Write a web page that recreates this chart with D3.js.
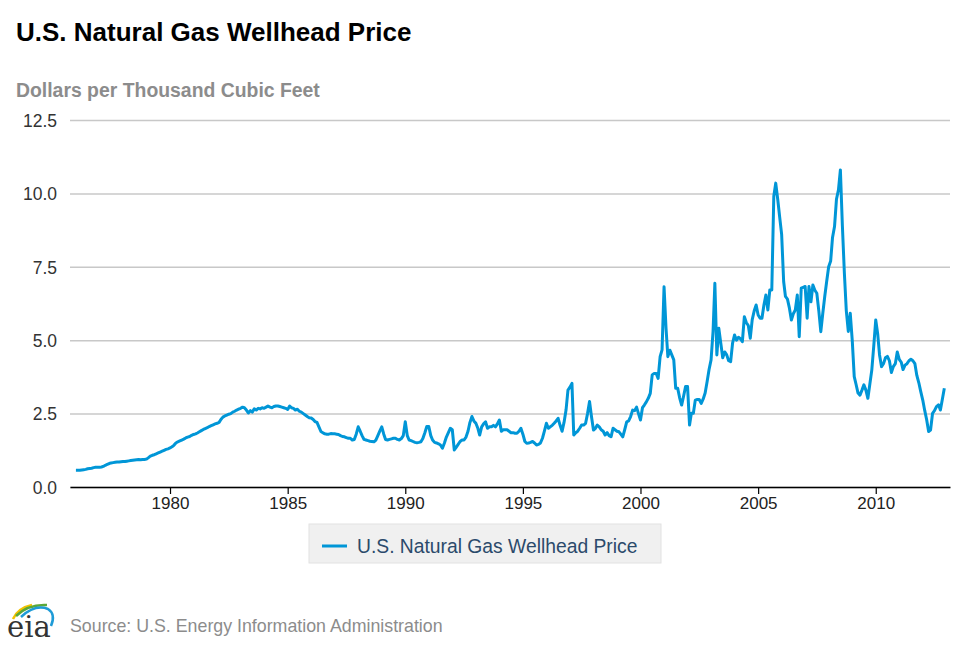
<!DOCTYPE html>
<html>
<head>
<meta charset="utf-8">
<script src="https://cdn.jsdelivr.net/npm/d3@7/dist/d3.min.js"></script>
<style>
body { margin: 0; background: #fff; }
svg text { font-family: "Liberation Sans", Arial, Helvetica, sans-serif; }
</style>
</head>
<body>
<div id="chart"></div>
<script>
// Monthly series, Jan 1976 .. Dec 2012 (one row per year)
var firstYear = 1976;
var wellheadPrice = [
  0.57,0.57,0.57,0.58,0.59,0.60,0.62,0.63,0.64,0.66,0.67,0.67, // 1976
  0.67,0.68,0.70,0.74,0.77,0.80,0.82,0.83,0.84,0.85,0.85,0.86, // 1977
  0.87,0.87,0.88,0.89,0.90,0.91,0.92,0.93,0.94,0.93,0.94,0.94, // 1978
  0.95,1.00,1.05,1.08,1.10,1.13,1.16,1.19,1.22,1.25,1.28,1.30, // 1979
  1.33,1.37,1.42,1.50,1.54,1.57,1.60,1.63,1.67,1.70,1.72,1.76, // 1980
  1.79,1.81,1.84,1.88,1.92,1.96,1.99,2.02,2.06,2.09,2.12,2.15, // 1981
  2.17,2.20,2.30,2.38,2.42,2.45,2.48,2.50,2.55,2.58,2.62,2.65, // 1982
  2.68,2.72,2.70,2.62,2.52,2.60,2.55,2.66,2.62,2.68,2.66,2.70, // 1983
  2.68,2.72,2.76,2.72,2.70,2.74,2.76,2.76,2.74,2.72,2.70,2.68, // 1984
  2.64,2.76,2.70,2.68,2.62,2.65,2.58,2.55,2.50,2.45,2.40,2.36, // 1985
  2.35,2.30,2.23,2.20,2.05,1.89,1.85,1.81,1.80,1.80,1.82,1.81, // 1986
  1.81,1.80,1.79,1.75,1.72,1.71,1.68,1.66,1.66,1.60,1.62,1.80, // 1987
  2.05,1.90,1.75,1.62,1.60,1.58,1.56,1.55,1.54,1.60,1.75,1.90, // 1988
  2.05,1.80,1.62,1.60,1.62,1.64,1.66,1.66,1.62,1.60,1.65,1.75, // 1989
  2.22,1.75,1.60,1.58,1.55,1.52,1.51,1.52,1.54,1.65,1.85,2.06, // 1990
  2.06,1.75,1.60,1.52,1.50,1.47,1.43,1.32,1.50,1.70,1.85,2.00, // 1991
  1.95,1.26,1.35,1.45,1.55,1.60,1.60,1.70,1.90,2.20,2.40,2.25, // 1992
  2.17,2.00,1.77,2.05,2.15,2.22,2.00,2.05,2.05,2.10,2.05,2.15, // 1993
  2.28,1.90,1.95,1.95,1.95,1.90,1.85,1.85,1.83,1.83,1.90,2.00, // 1994
  1.80,1.55,1.49,1.50,1.52,1.55,1.50,1.43,1.45,1.50,1.66,1.90, // 1995
  2.17,2.00,2.05,2.10,2.17,2.25,2.34,2.10,1.90,2.20,2.62,3.30, // 1996
  3.40,3.53,1.77,1.85,1.90,2.00,2.11,2.11,2.17,2.50,2.91,2.40, // 1997
  1.94,2.00,2.11,2.05,1.95,1.90,1.77,1.85,1.75,1.71,2.00,1.95, // 1998
  1.90,1.88,1.80,1.71,1.95,2.22,2.25,2.40,2.62,2.60,2.72,2.50, // 1999
  2.28,2.70,2.79,2.90,3.02,3.19,3.82,3.87,3.87,3.70,4.44,4.67, // 2000
  6.82,5.40,4.44,4.66,4.50,4.33,3.36,3.36,3.03,2.79,3.10,3.42, // 2001
  3.42,2.11,2.51,2.51,2.96,2.98,2.98,2.85,3.00,3.20,3.59,4.00, // 2002
  4.33,5.30,6.94,4.50,5.41,4.90,4.40,4.60,4.50,4.30,4.27,4.90, // 2003
  5.18,5.00,5.10,5.05,4.95,5.80,5.60,5.50,5.07,5.70,6.00,6.20, // 2004
  5.86,5.75,5.75,6.20,6.54,6.03,6.71,6.71,9.90,10.35,9.80,9.20, // 2005
  8.60,7.00,6.49,6.40,6.10,5.69,5.90,6.03,6.54,5.12,6.77,6.80, // 2006
  6.83,5.75,6.83,6.31,6.88,6.70,6.60,6.00,5.29,5.90,6.49,7.00, // 2007
  7.50,7.70,8.50,8.87,9.80,10.12,10.80,8.90,7.28,6.00,5.30,5.92, // 2008
  5.00,3.76,3.50,3.20,3.13,3.30,3.48,3.30,3.02,3.50,3.99,4.80, // 2009
  5.69,5.20,4.50,4.10,4.20,4.40,4.45,4.30,3.90,4.10,4.20,4.60, // 2010
  4.35,4.25,4.00,4.15,4.20,4.30,4.35,4.30,4.20,3.80,3.55,3.25, // 2011
  2.96,2.60,2.30,1.89,1.94,2.51,2.60,2.74,2.80,2.62,3.00,3.36  // 2012
];
var yTicks = [0, 2.5, 5, 7.5, 10, 12.5];
var xTickYears = [1980, 1985, 1990, 1995, 2000, 2005, 2010];
var seriesName = "U.S. Natural Gas Wellhead Price";
var chartTitle = "U.S. Natural Gas Wellhead Price";
var unitsLabel = "Dollars per Thousand Cubic Feet";
var sourceText = "Source: U.S. Energy Information Administration";

var width = 970, height = 647;
var plot = { left: 70, right: 950, top: 120, bottom: 487 };
var lineColor = "#0096d7";

var data = wellheadPrice.map(function(v, i) {
    return { date: new Date(firstYear + Math.floor(i / 12), i % 12, 1), value: v };
});

var svg = d3.select("#chart").append("svg")
    .attr("width", width)
    .attr("height", height);

var x = d3.scaleTime()
    .domain([new Date(1975, 9, 1), new Date(2013, 1, 27)])
    .range([plot.left, plot.right]);

var y = d3.scaleLinear()
    .domain([0, 12.5])
    .range([plot.bottom, plot.top]);

// Titles
svg.append("text")
    .attr("x", 16).attr("y", 41)
    .style("font-size", "26px").style("font-weight", "bold")
    .style("fill", "#000")
    .text(chartTitle);

svg.append("text")
    .attr("x", 16).attr("y", 97)
    .style("font-size", "19.4px").style("font-weight", "bold")
    .style("fill", "#8c8c8c")
    .text(unitsLabel);

// Y grid + labels
var yAxis = d3.axisLeft(y)
    .tickValues(yTicks)
    .tickFormat(d3.format(".1f"))
    .tickSize(-(plot.right - plot.left))
    .tickPadding(13);

var gy = svg.append("g")
    .attr("transform", "translate(" + plot.left + ",0)")
    .call(yAxis);
gy.select(".domain").remove();
gy.selectAll(".tick line").attr("stroke", "#c8c8c8").attr("stroke-width", 1.5);
gy.selectAll(".tick text")
    .style("font-size", "17.5px").style("fill", "#333")
    .attr("dy", "0.36em");

// X axis
var xAxis = d3.axisBottom(x)
    .tickValues(xTickYears.map(function(yr) { return new Date(yr, 0, 1); }))
    .tickFormat(d3.timeFormat("%Y"))
    .tickSize(7)
    .tickSizeOuter(0)
    .tickPadding(3);

var gx = svg.append("g")
    .attr("transform", "translate(0," + plot.bottom + ")")
    .call(xAxis);
gx.select(".domain").attr("stroke", "#000").attr("stroke-width", 1.5);
gx.selectAll(".tick line").attr("stroke", "#000").attr("stroke-width", 1.2);
gx.selectAll(".tick text")
    .style("font-size", "17px").style("fill", "#222");

// Line
var line = d3.line()
    .x(function(d) { return x(d.date); })
    .y(function(d) { return y(d.value); });

svg.append("path")
    .datum(data)
    .attr("fill", "none")
    .attr("stroke", lineColor)
    .attr("stroke-width", 3)
    .attr("stroke-linejoin", "round")
    .attr("d", line);

// Legend
var legend = svg.append("g").attr("transform", "translate(309,524)");
legend.append("rect")
    .attr("width", 352).attr("height", 39)
    .attr("fill", "#f0f0f0").attr("stroke", "#e2e2e2");
legend.append("line")
    .attr("x1", 13).attr("x2", 38).attr("y1", 22).attr("y2", 22)
    .attr("stroke", lineColor).attr("stroke-width", 3);
legend.append("text")
    .attr("x", 48).attr("y", 29)
    .style("font-size", "19.3px").style("fill", "#2b4a6b")
    .text(seriesName);

// EIA logo
var logo = svg.append("g");
logo.append("path")
    .attr("d", "M13,619 Q18,608 32,605")
    .attr("fill", "none").attr("stroke", "#f2c200").attr("stroke-width", 2.5);
logo.append("path")
    .attr("d", "M16,616 Q28,604 47,605")
    .attr("fill", "none").attr("stroke", "#5aa83a").attr("stroke-width", 2.5);
logo.append("path")
    .attr("d", "M21,617 Q35,604 48,609 Q56,614 51,626")
    .attr("fill", "none").attr("stroke", "#1e9bd7").attr("stroke-width", 2.5);
logo.append("text")
    .attr("x", 7).attr("y", 637)
    .style("font-family", "'DejaVu Serif', 'Liberation Serif', serif")
    .style("font-size", "29px").style("fill", "#333")
    .text("eia");

svg.append("text")
    .attr("x", 70).attr("y", 632)
    .style("font-size", "17.8px").style("fill", "#8c8c8c")
    .text(sourceText);
</script>
</body>
</html>
